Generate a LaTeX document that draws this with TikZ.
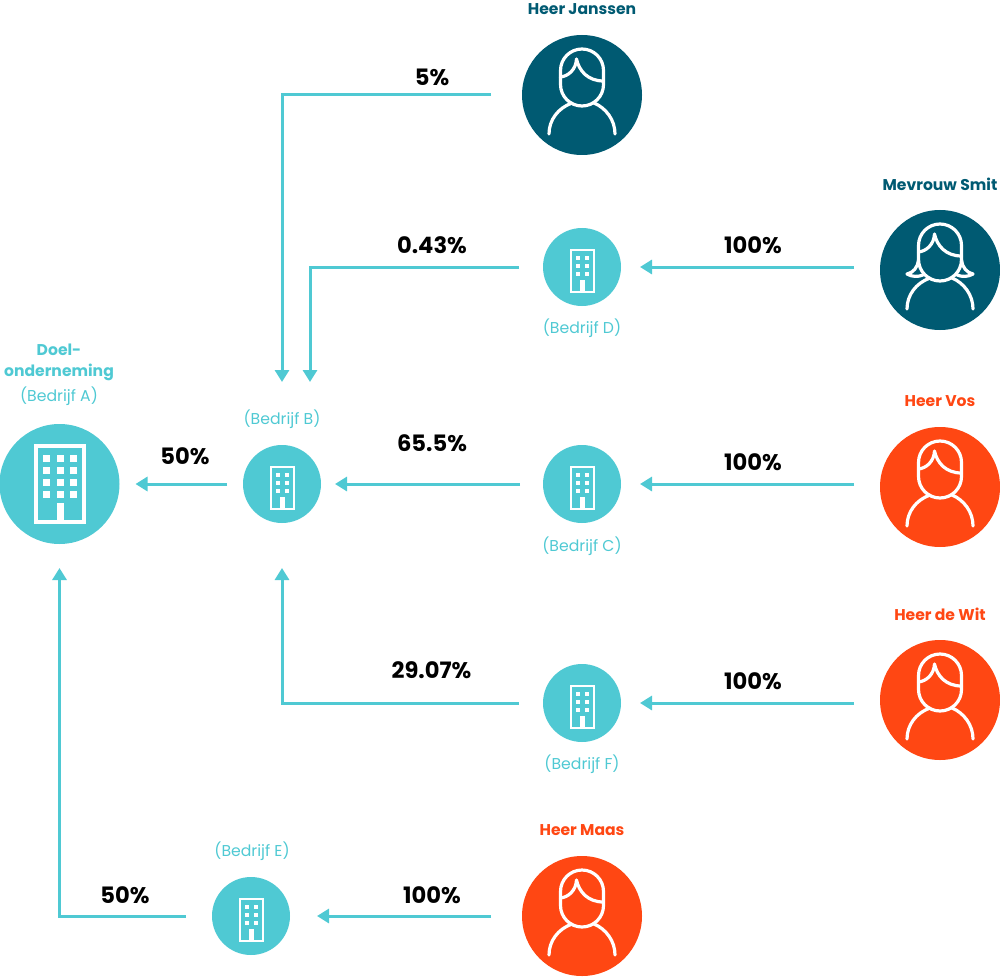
\documentclass[tikz,border=0pt]{standalone}
\usepackage{fontspec}
\setmainfont{Poppins}
\usetikzlibrary{arrows.meta}
\definecolor{teal}{HTML}{4FC9D3}
\definecolor{deep}{HTML}{005A72}
\definecolor{flame}{HTML}{FF4713}
\tikzset{
  x=1pt,y=-1pt,
  bigdisc/.style={circle,inner sep=0,outer sep=0,minimum size=120pt},
  smalldisc/.style={circle,fill=teal,inner sep=0,outer sep=0,minimum size=78pt},
  conn/.style={draw=teal,line width=3pt,-{Triangle[length=12pt,width=14pt]}},
  pct/.style={font=\bfseries\fontsize{22.6}{24}\selectfont,text=black,inner sep=0},
  who/.style={font=\bfseries\fontsize{15.6}{18}\selectfont,inner sep=0},
  firm/.style={font=\fontsize{15.7}{18}\selectfont,text=teal,inner sep=0},
  iconline/.style={draw=white,line width=3.2pt,line cap=round,line join=round},
  head/.pic={
    \draw[iconline] (-21.5,-24.5) arc[start angle=180,end angle=0,radius=21.5pt] -- (21.5,-10.5) arc[start angle=0,end angle=-180,radius=21.5pt] -- cycle;
    \draw[iconline] (-21.5,-18) .. controls (-13,-19) and (-6,-26) .. (-5.5,-36) .. controls (-3,-24) and (6,-14) .. (21.5,-14);
    \draw[iconline] (-33,39) .. controls (-33,25) and (-24,13) .. (-10,8);
    \draw[iconline] (33,39) .. controls (33,25) and (24,13) .. (12,8);
  },
  shemark/.pic={
    \draw[iconline] (-21.5,-10) .. controls (-22,-3) and (-27,3) .. (-33,4) .. controls (-28,7) and (-22,7) .. (-17,5);
    \draw[iconline] (21.5,-10) .. controls (22,-3) and (27,3) .. (33,4) .. controls (28,7) and (22,7) .. (17,5);
  },
  bigoffice/.pic={
    \draw[draw=white,line width=3.4pt] (-23.5,-38) rectangle (24.5,38);
    \fill[white] (-3,19) rectangle (4,38);
    \foreach \yy in {-26,-14,-2,10}{\foreach \xx in {-13.5,0.5,13.5}{
      \fill[white] (\xx-3.5,\yy-3.5) rectangle (\xx+3.5,\yy+3.5);}}
  },
  smalloffice/.pic={
    \draw[draw=white,line width=2.1pt] (-11,-17) rectangle (12,25);
    \fill[white] (-2,13) rectangle (3,25);
    \foreach \yy in {-9,-1,7}{\foreach \xx in {-4,5}{
      \fill[white] (\xx-2,\yy-2) rectangle (\xx+2,\yy+2);}}
  }
}
\begin{document}
\begin{tikzpicture}
\useasboundingbox (0,0) rectangle (1000,976);
% people
\node[bigdisc,fill=deep] (jan) at (582,95) {};
\node[bigdisc,fill=deep] (smit) at (940,270) {};
\node[bigdisc,fill=flame] (vos) at (940,487) {};
\node[bigdisc,fill=flame] (wit) at (940,700) {};
\node[bigdisc,fill=flame] (maas) at (582,916) {};
\pic at (jan) {head};
\pic at (smit) {head};
\pic at (smit) {shemark};
\pic at (vos) {head};
\pic at (wit) {head};
\pic at (maas) {head};
% companies
\node[bigdisc,fill=teal] (a) at (59.5,484) {};
\node[smalldisc] (b) at (282,484) {};
\node[smalldisc] (c) at (582,484) {};
\node[smalldisc] (d) at (582,267) {};
\node[smalldisc] (e) at (251,916) {};
\node[smalldisc] (f) at (582,703) {};
\pic at (a) {bigoffice};
\pic at (b) {smalloffice};
\pic at (c) {smalloffice};
\pic at (d) {smalloffice};
\pic at (e) {smalloffice};
\pic at (f) {smalloffice};
\coordinate (b2) at (310,445);
% connectors
\draw[conn,shorten <=31pt,shorten >=63pt] (jan.west) -| (b.north);
\draw[conn,shorten <=24pt,shorten >=63pt] (d.west) -| (b2);
\draw[conn,shorten <=26pt,shorten >=19pt] (d.east -| smit.west) -- (d.east);
\draw[conn,shorten <=26pt,shorten >=19pt] (c.east -| vos.west) -- (c.east);
\draw[conn,shorten <=23pt,shorten >=14pt] (c.west) -- (b.east);
\draw[conn,shorten <=16pt,shorten >=16pt] (b.west) -- (a.east);
\draw[conn,shorten <=26pt,shorten >=19pt] (f.east -| wit.west) -- (f.east);
\draw[conn,shorten <=24pt,shorten >=45pt] (f.west) -| (b.south);
\draw[conn,shorten <=31pt,shorten >=27pt] (maas.west) -- (e.east);
\draw[conn,shorten <=26pt,shorten >=24pt] (e.west) -| (a.south);
% percentages
\node[pct] (p1) at (432,77) {5\%};
\node[pct] (p2) at (432,245) {0.43\%};
\node[pct] (p3) at (753,245) {100\%};
\node[pct] (p4) at (432,443) {65.5\%};
\node[pct] (p5) at (753,462) {100\%};
\node[pct] (p6) at (185,456) {50\%};
\node[pct] (p7) at (431.5,670) {29.07\%};
\node[pct] (p8) at (753,681) {100\%};
\node[pct] (p9) at (125,895) {50\%};
\node[pct] (p10) at (432,895) {100\%};
% names
\node[who,text=deep] (n1) at (582,9) {Heer Janssen};
\node[who,text=deep] (n2) at (940,184) {Mevrouw Smit};
\node[who,text=flame] (n3) at (940,401) {Heer Vos};
\node[who,text=flame] (n4) at (940,614) {Heer de Wit};
\node[who,text=flame] (n5) at (582,830) {Heer Maas};
\node[who,text=teal] (n6) at (59,350) {Doel-};
\node[who,text=teal] (n7) at (59,372) {onderneming};
\node[firm] (l1) at (59,396) {(Bedrijf A)};
\node[firm] (l2) at (282,419) {(Bedrijf B)};
\node[firm] (l3) at (582,546) {(Bedrijf C)};
\node[firm] (l4) at (582,328) {(Bedrijf D)};
\node[firm] (l5) at (252,851) {(Bedrijf E)};
\node[firm] (l6) at (582,764) {(Bedrijf F)};
\end{tikzpicture}
\end{document}
